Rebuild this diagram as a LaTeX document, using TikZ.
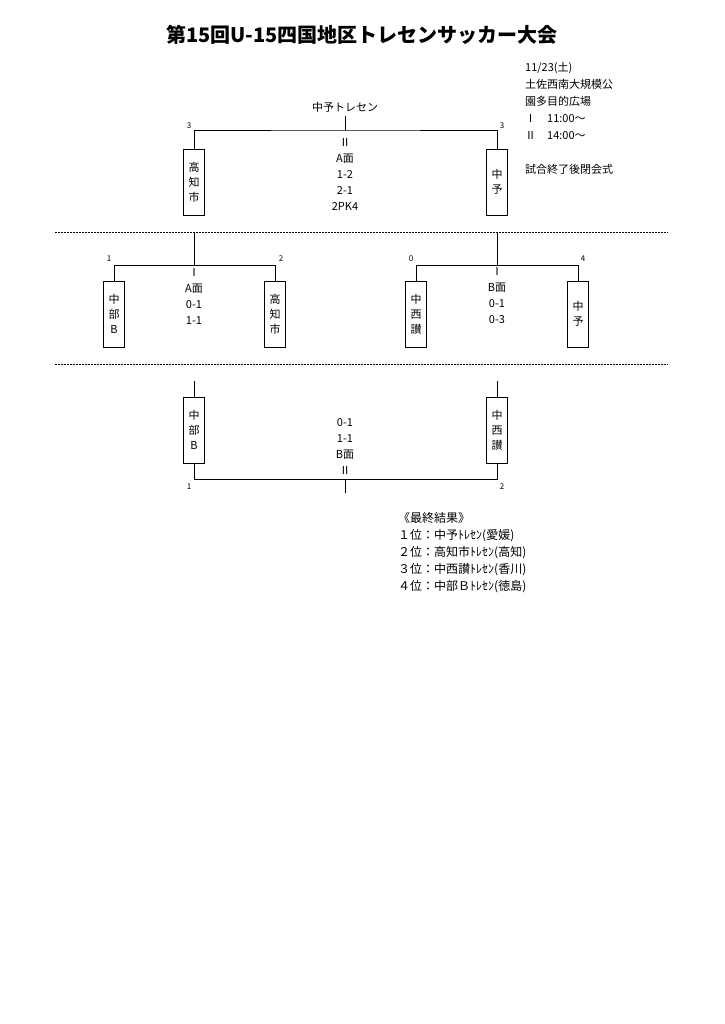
\documentclass[tikz,border=0pt]{standalone}
\usepackage{fontspec}
\setmainfont{Noto Sans CJK JP}
\begin{document}
\begin{tikzpicture}[x=1pt,y=-1pt,font=\fontsize{11}{13}\selectfont]
                \useasboundingbox (0,0) rectangle (724,1024);
                \node[font=\fontsize{20}{24}\selectfont\bfseries] (title) at (362,35) {第15回U-15四国地区トレセンサッカー大会};
                \begin{scope}[every node/.style={draw, thick, minimum width=21, minimum height=66, inner sep=1, align=center, font=\fontsize{11}{15}\selectfont}]
                        \node (FK) at (194,182) {高\\知\\市};
                        \node (FC) at (497,182) {中\\予};
                        \node (SA) at (114,314) {中\\部\\B};
                        \node (SK) at (275,314) {高\\知\\市};
                        \node (SN) at (416,314) {中\\西\\讃};
                        \node (SC) at (578,314) {中\\予};
                        \node (TB) at (194,430) {中\\部\\B};
                        \node (TN) at (497,430) {中\\西\\讃};
                \end{scope}
                \begin{scope}[every node/.style={font=\fontsize{8}{10}\selectfont}]
                        \node at (189,126) {3};
                        \node at (502,126) {3};
                        \node at (109,259) {1};
                        \node at (281,259) {2};
                        \node at (411,259) {0};
                        \node at (583,259) {4};
                        \node at (189,487) {1};
                        \node at (502,487) {2};
                \end{scope}
                \begin{scope}[every path/.style={thick}]
                        \node (win) at (345,107) {中予トレセン};
                        \draw (win.south) -- (345,130);
                        \draw (FK.north) |- (345,130) -| (FC.north);
                        \draw (194,232) -- (194,265);
                        \draw (SA.north) |- (SK.north |- 0,265) -- (SK.north);
                        \draw (497,232) -- (497,265);
                        \draw (SN.north) |- (SC.north |- 0,265) -- (SC.north);
                        \draw (TB.north) -- (194,381);
                        \draw (TN.north) -- (497,381);
                        \draw (TB.south) |- (497,479) -- (TN.south);
                        \draw (345,479) -- (345,493);
                \end{scope}
                \draw[thick, dash pattern=on 1.5pt off 1.5pt] (55,232) -- (668,232);
                \draw[thick, dash pattern=on 1.5pt off 1.5pt] (55,364) -- (668,364);
                \node[align=center, font=\fontsize{11}{16}\selectfont] (mf) at (345,174) {Ⅱ\\A面\\1-2\\2-1\\2PK4};
                \node[align=center, font=\fontsize{11}{16}\selectfont] (ma) at (194,296) {Ⅰ\\A面\\0-1\\1-1};
                \node[align=center, font=\fontsize{11}{16}\selectfont] (mb) at (497,296) {Ⅰ\\B面\\0-1\\0-3};
                \node[align=center, font=\fontsize{11}{16}\selectfont] (mt) at (345,447) {0-1\\1-1\\B面\\Ⅱ};
                \node[anchor=north west, align=left, inner sep=0, font=\fontsize{11}{17}\selectfont] (info) at (525,62) {11/23(土)\\土佐西南大規模公\\園多目的広場\\ Ⅰ\quad 11:00\char"301C\\ Ⅱ\quad 14:00\char"301C\\[17pt]試合終了後閉会式};
                \node[anchor=north west, align=left, inner sep=0, font=\fontsize{12}{17}\selectfont] (res) at (398,512) {《最終結果》\\１位：中予ﾄﾚｾﾝ(愛媛)\\２位：高知市ﾄﾚｾﾝ(高知)\\３位：中西讃ﾄﾚｾﾝ(香川)\\４位：中部Ｂﾄﾚｾﾝ(徳島)};
\end{tikzpicture}
\end{document}
